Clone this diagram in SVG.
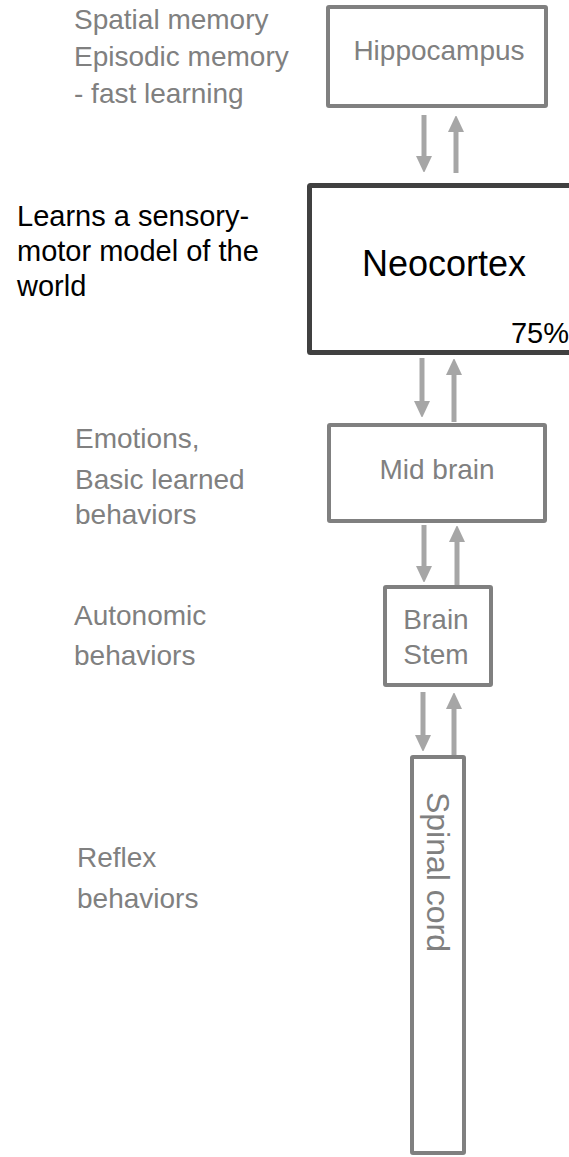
<svg xmlns="http://www.w3.org/2000/svg" width="569" height="1157" viewBox="0 0 569 1157">
<style>
text{font-family:"Liberation Sans",Arial,sans-serif;font-size:28px}
.g{fill:#808080}
.k{fill:#000;font-size:29px}
.box{fill:#fff;stroke:#808080;stroke-width:4}
.arr{stroke:#a6a6a6;stroke-width:5;fill:none;marker-end:url(#ah)}
</style>
<defs>
<marker id="ah" markerUnits="userSpaceOnUse" markerWidth="16" markerHeight="17" refX="2" refY="8" orient="auto">
<path d="M0,0 L17,8 L0,16 z" fill="#a6a6a6"/>
</marker>
</defs>
<rect width="569" height="1157" fill="#fff"/>
<g id="labels">
<text class="g" x="74" y="29">Spatial memory</text>
<text class="g" x="74" y="66">Episodic memory</text>
<text class="g" x="74" y="103">- fast learning</text>
<text class="k" x="17" y="226">Learns a sensory-</text>
<text class="k" x="17" y="261">motor model of the</text>
<text class="k" x="17" y="296">world</text>
<text class="g" x="75" y="448">Emotions,</text>
<text class="g" x="75" y="489">Basic learned</text>
<text class="g" x="75" y="524">behaviors</text>
<text class="g" x="74" y="625">Autonomic</text>
<text class="g" x="74" y="665">behaviors</text>
<text class="g" x="77" y="867">Reflex</text>
<text class="g" x="77" y="908">behaviors</text>
</g>
<g id="hippocampus">
<rect class="box" x="328" y="7" width="218" height="99" rx="1"/>
<text class="g" x="439" y="60" text-anchor="middle">Hippocampus</text>
</g>
<g id="neocortex">
<rect x="309.5" y="185.5" width="280" height="167" rx="1" fill="#fff" stroke="#404040" stroke-width="5"/>
<text class="k" x="444" y="276" text-anchor="middle" style="font-size:36px">Neocortex</text>
<text class="k" x="569" y="343" text-anchor="end" style="font-size:29px">75%</text>
</g>
<g id="midbrain">
<rect class="box" x="329" y="425" width="216" height="96" rx="1"/>
<text class="g" x="437" y="479" text-anchor="middle">Mid brain</text>
</g>
<g id="brainstem">
<rect class="box" x="385" y="587" width="106" height="98" rx="1"/>
<text class="g" x="436" y="629" text-anchor="middle">Brain</text>
<text class="g" x="436" y="664" text-anchor="middle">Stem</text>
</g>
<g id="spinalcord">
<rect class="box" x="412" y="757" width="52" height="396" rx="1"/>
<text class="g" transform="translate(438,872) rotate(90)" x="0" y="11" text-anchor="middle" style="font-size:32px">Spinal cord</text>
</g>
<g id="connectors">
<line class="arr" x1="424" y1="115" x2="424" y2="158"/>
<line class="arr" x1="456" y1="173" x2="456" y2="130"/>
<line class="arr" x1="422" y1="358" x2="422" y2="403"/>
<line class="arr" x1="454" y1="422" x2="454" y2="373"/>
<line class="arr" x1="424" y1="525" x2="424" y2="568"/>
<line class="arr" x1="457" y1="585" x2="457" y2="540"/>
<line class="arr" x1="423" y1="692" x2="423" y2="737"/>
<line class="arr" x1="454" y1="755" x2="454" y2="707"/>
</g>
</svg>
